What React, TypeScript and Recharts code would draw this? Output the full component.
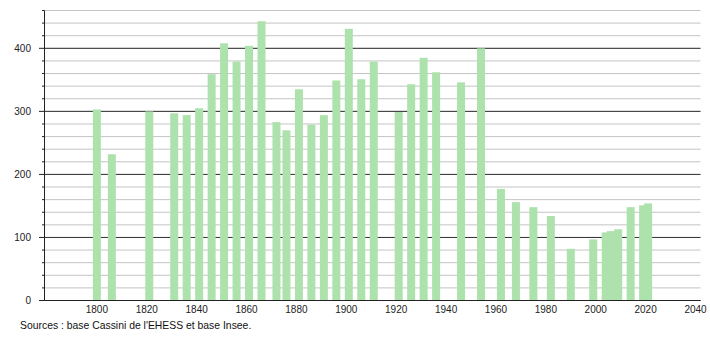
import { BarChart, Bar, XAxis, YAxis, CartesianGrid } from 'recharts';

// census years and population
const years = [
  1800, 1806, 1821, 1831, 1836, 1841, 1846, 1851, 1856, 1861, 1866, 1872, 1876,
  1881, 1886, 1891, 1896, 1901, 1906, 1911, 1921, 1926, 1931, 1936, 1946, 1954,
  1962, 1968, 1975, 1982, 1990, 1999, 2004, 2006, 2009, 2014, 2019, 2021,
];
const population = [
  303, 232, 300, 297, 294, 305, 359, 408, 379, 404, 443, 283, 270,
  335, 279, 294, 349, 431, 351, 379, 299, 343, 385, 362, 346, 400,
  177, 156, 148, 134, 82, 97, 108, 110, 113, 148, 151, 154,
];

const xTicks = [1800, 1820, 1840, 1860, 1880, 1900, 1920, 1940, 1960, 1980, 2000, 2020, 2040];
const yTicks = [0, 20, 40, 60, 80, 100, 120, 140, 160, 180, 200, 220, 240, 260, 280, 300, 320, 340, 360, 380, 400, 420, 440, 460];
const majorTicks = [0, 100, 200, 300, 400];

const data = years.map((year, i) => ({ year, population: population[i] }));

const font = '"Liberation Sans", Arial, sans-serif';

function YTick(props: any) {
  const { x, y, payload } = props;
  const major = majorTicks.includes(payload.value);
  return (
    <g>
      <line x1={x - (major ? 5.5 : 2.5)} x2={x} y1={y} y2={y} stroke="#222" />
      {major && (
        <text x={x - 13.5} y={y} dy="0.36em" textAnchor="end" fontSize={10} fontFamily={font} fill="#222">
          {payload.value}
        </text>
      )}
    </g>
  );
}

function BarShape(props: any) {
  const { x, y, width, height } = props;
  const cx = x + width / 2;
  return <rect x={cx - 4} y={y} width={8} height={height} fill="#ade2ad" />;
}

export default function App() {
  return (
    <div style={{ position: 'absolute', left: 0, top: 0, width: 710, height: 340, background: '#fff' }}>
      <BarChart
        width={710}
        height={340}
        data={data}
        margin={{ top: 10.5, right: 9.5, left: 0.5, bottom: 19.5 }}
      >
        <CartesianGrid vertical={false} stroke="#c4c4c4" />
        <CartesianGrid vertical={false} horizontalValues={majorTicks} stroke="#333" />
        <XAxis
          dataKey="year"
          type="number"
          domain={[1779, 2042]}
          ticks={xTicks}
          interval={0}
          height={20}
          tickLine={false}
          tickSize={0}
          tickMargin={5}
          axisLine={{ stroke: '#222' }}
          tick={{ fontSize: 10, fill: '#222', fontFamily: font }}
          allowDataOverflow
        />
        <YAxis
          type="number"
          domain={[0, 460]}
          ticks={yTicks}
          interval={0}
          width={44}
          tickLine={false}
          tickSize={0}
          tickMargin={0}
          axisLine={{ stroke: '#222' }}
          tick={<YTick />}
          allowDataOverflow
        />
        <Bar dataKey="population" fill="#ade2ad" shape={<BarShape />} isAnimationActive={false} />
      </BarChart>
      <div
        style={{
          position: 'absolute',
          left: 20,
          top: 320,
          fontSize: 10.4,
          fontFamily: font,
          color: '#111',
          whiteSpace: 'nowrap',
        }}
      >
        Sources : base Cassini de l'EHESS et base Insee.
      </div>
    </div>
  );
}
